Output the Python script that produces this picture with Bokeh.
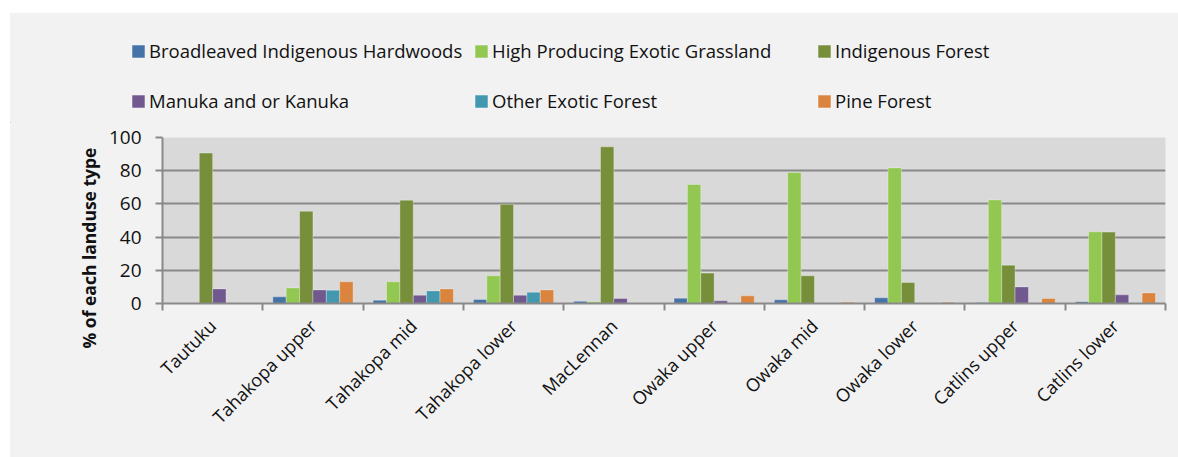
from math import pi

from bokeh.embed import file_html
from bokeh.layouts import column, row
from bokeh.models import (ColumnDataSource, FixedTicker, Legend, LegendItem,
                          Range1d, Title)
from bokeh.plotting import figure
from bokeh.resources import INLINE

# Share of each catchment (%) under each landuse class
catchments = ["Tautuku", "Tahakopa upper", "Tahakopa mid", "Tahakopa lower",
              "MacLennan", "Owaka upper", "Owaka mid", "Owaka lower",
              "Catlins upper", "Catlins lower"]
broadleaved = [0.0, 4.0, 2.0, 2.4, 1.3, 3.2, 2.2, 3.4, 0.6, 1.0]
grassland = [0.0, 9.4, 13.1, 16.7, 1.0, 71.7, 78.9, 81.7, 62.4, 43.2]
indigenous = [90.6, 55.6, 62.2, 59.8, 94.4, 18.3, 16.7, 12.7, 23.1, 43.0]
manuka = [8.8, 8.2, 5.0, 5.0, 3.0, 1.6, 0.0, 0.0, 10.0, 5.2]
other_exotic = [0.0, 8.0, 7.6, 6.8, 0.0, 0.0, 0.0, 0.0, 0.0, 0.0]
pine = [0.0, 13.1, 8.8, 8.2, 0.0, 4.6, 0.8, 0.8, 3.0, 6.4]

series_names = ["Broadleaved Indigenous Hardwoods",
                "High Producing Exotic Grassland", "Indigenous Forest",
                "Manuka and or Kanuka", "Other Exotic Forest", "Pine Forest"]
series_values = [broadleaved, grassland, indigenous, manuka, other_exotic, pine]
series_colors = ["#4572A7", "#92C852", "#778F3B", "#71588F", "#4198AF",
                 "#DB843D"]
y_ticks = [0, 20, 40, 60, 80, 100]
y_title = "% of each landuse type"

FONT = "Open Sans"
TEXT = "#111111"
AXIS = "#898989"
PANEL = "#F2F2F2"

n_series = len(series_names)
bar_w = 0.8 / n_series

# ---- main bar chart -------------------------------------------------------
p = figure(width=1168, height=334,
           x_range=Range1d(0, len(catchments)), y_range=Range1d(0, 100),
           output_backend="svg", toolbar_location=None,
           min_border_left=152, min_border_right=13,
           min_border_top=14, min_border_bottom=154)
p.background_fill_color = "#D9D9D9"
p.border_fill_color = PANEL
p.outline_line_color = None

renderers = []
for k, (name, vals, col) in enumerate(zip(series_names, series_values,
                                          series_colors)):
    offset = -0.4 + bar_w * (k + 0.5)
    src = ColumnDataSource(dict(
        x=[i + 0.5 + offset for i in range(len(catchments))],
        top=vals,
        catchment=catchments))
    r = p.vbar(x="x", top="top", width=bar_w, source=src, fill_color=col,
               line_color="white", line_alpha=0.3, line_width=1)
    renderers.append(r)

# x axis: names at group centres, tick marks on group boundaries
xa = p.xaxis[0]
xa.ticker = FixedTicker(ticks=[i + 0.5 for i in range(len(catchments))],
                        minor_ticks=list(range(len(catchments) + 1)))
xa.major_label_overrides = {i + 0.5: c for i, c in enumerate(catchments)}
xa.major_label_orientation = pi / 4
xa.major_tick_line_color = None
xa.major_tick_out = 0
xa.major_tick_in = 0
xa.minor_tick_line_color = AXIS
xa.minor_tick_line_width = 2
xa.minor_tick_out = 7
xa.minor_tick_in = 0
xa.axis_line_color = AXIS
xa.axis_line_width = 2
xa.major_label_standoff = 12
xa.major_label_text_font = FONT
xa.major_label_text_font_size = "18px"
xa.major_label_text_color = TEXT

ya = p.yaxis[0]
ya.ticker = FixedTicker(ticks=y_ticks)
ya.minor_tick_line_color = None
ya.major_tick_line_color = AXIS
ya.major_tick_line_width = 2
ya.major_tick_out = 7
ya.major_tick_in = 0
ya.axis_line_color = AXIS
ya.axis_line_width = 2
ya.major_label_standoff = 14
ya.major_label_text_font = FONT
ya.major_label_text_font_size = "19px"
ya.major_label_text_color = TEXT

p.xgrid.visible = False
p.ygrid.ticker = FixedTicker(ticks=y_ticks)
p.ygrid.grid_line_color = AXIS
p.ygrid.grid_line_width = 2

# vertical axis title, starting a little below the bottom of the frame
p.add_layout(Title(text=y_title, align="left", offset=-45, standoff=10,
                   text_font=FONT, text_font_size="17.5px",
                   text_font_style="bold", text_color=TEXT), "left")

# ---- legend strip -----------------------------------------------------------
lg_fig = figure(width=1168, height=110, x_range=Range1d(0, 1168),
                y_range=Range1d(0, 110), output_backend="svg",
                toolbar_location=None, min_border=0)
lg_fig.axis.visible = False
lg_fig.grid.visible = False
lg_fig.outline_line_color = None
lg_fig.background_fill_color = PANEL
lg_fig.border_fill_color = PANEL

swatches = [lg_fig.vbar(x=[-50], top=[1], width=1, fill_color=c,
                        line_color="white", line_alpha=0.3)
            for c in series_colors]
for rw in range(2):
    items = [LegendItem(label=series_names[k], renderers=[swatches[k]])
             for k in range(rw * 3, rw * 3 + 3)]
    lg = Legend(items=items, orientation="horizontal",
                location=(120, 60 - rw * 50),
                spacing=0, padding=0, margin=0,
                glyph_width=16, glyph_height=16, label_standoff=3,
                label_width=324, label_height=16,
                label_text_font=FONT, label_text_font_size="18.5px",
                label_text_color=TEXT,
                border_line_color=None, background_fill_alpha=0)
    lg_fig.add_layout(lg)

layout = column(lg_fig, row(p, spacing=0), spacing=0,
                styles={"background-color": PANEL})
layout.margin = (13, 0, 0, 10)

open("out.html", "w").write(file_html(layout, INLINE))
